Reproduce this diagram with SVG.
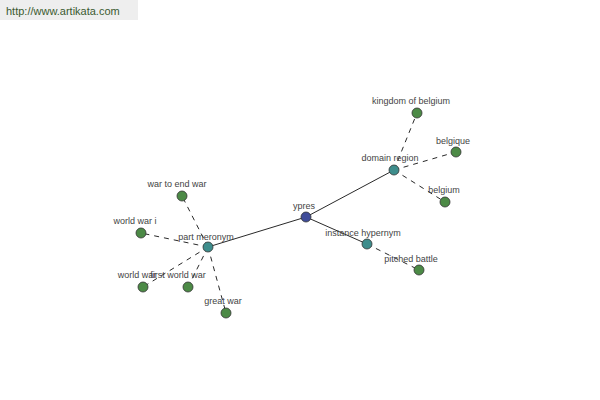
<svg xmlns="http://www.w3.org/2000/svg" width="600" height="400" viewBox="0 0 600 400">
<style>
text{font-family:"Liberation Sans",Arial,sans-serif;font-size:9px;fill:#444;text-anchor:middle}
.n circle{stroke:#333;stroke-width:0.8}
.root circle{fill:#3f4c99}
.mid circle{fill:#3e8d8c}
.leaf circle{fill:#4c8a46}
.solid{stroke:#111;stroke-width:0.9;fill:none}
.dash{stroke:#111;stroke-width:0.9;stroke-dasharray:5,5;fill:none}
</style>
<rect x="0" y="0" width="138" height="20" fill="#eeeeee"/>
<text x="6" y="15" style="text-anchor:start;font-size:11px;fill:#3a5a30">http://www.artikata.com</text>
<g id="connectors">
<line class="solid" x1="306" y1="217" x2="208" y2="247"/>
<line class="solid" x1="306" y1="217" x2="394" y2="170"/>
<line class="solid" x1="306" y1="217" x2="367" y2="244"/>
<line class="dash" x1="208" y1="247" x2="182" y2="196"/>
<line class="dash" x1="208" y1="247" x2="141" y2="233"/>
<line class="dash" x1="208" y1="247" x2="143" y2="287"/>
<line class="dash" x1="208" y1="247" x2="188" y2="287"/>
<line class="dash" x1="208" y1="247" x2="226" y2="313"/>
<line class="dash" x1="394" y1="170" x2="417" y2="113"/>
<line class="dash" x1="394" y1="170" x2="456" y2="152"/>
<line class="dash" x1="394" y1="170" x2="445" y2="202"/>
<line class="dash" x1="367" y1="244" x2="419" y2="270"/>
</g>
<g id="ypres" class="n root"><circle cx="306" cy="217" r="5"/><text x="304" y="209">ypres</text></g>
<g id="part-meronym" class="n mid"><circle cx="208" cy="247" r="5"/><text x="206" y="240">part meronym</text></g>
<g id="domain-region" class="n mid"><circle cx="394" cy="170" r="5"/><text x="390" y="161">domain region</text></g>
<g id="instance-hypernym" class="n mid"><circle cx="367" cy="244" r="5"/><text x="363" y="236">instance hypernym</text></g>
<g id="war-to-end-war" class="n leaf"><circle cx="182" cy="196" r="5"/><text x="177" y="187">war to end war</text></g>
<g id="world-war-i" class="n leaf"><circle cx="141" cy="233" r="5"/><text x="135" y="224">world war i</text></g>
<g id="world-war" class="n leaf"><circle cx="143" cy="287" r="5"/><text x="137" y="278">world war</text></g>
<g id="first-world-war" class="n leaf"><circle cx="188" cy="287" r="5"/><text x="178" y="278">first world war</text></g>
<g id="great-war" class="n leaf"><circle cx="226" cy="313" r="5"/><text x="223" y="304">great war</text></g>
<g id="kingdom-of-belgium" class="n leaf"><circle cx="417" cy="113" r="5"/><text x="411" y="104">kingdom of belgium</text></g>
<g id="belgique" class="n leaf"><circle cx="456" cy="152" r="5"/><text x="453" y="144">belgique</text></g>
<g id="belgium" class="n leaf"><circle cx="445" cy="202" r="5"/><text x="444" y="193">belgium</text></g>
<g id="pitched-battle" class="n leaf"><circle cx="419" cy="270" r="5"/><text x="411" y="262">pitched battle</text></g>
</svg>
